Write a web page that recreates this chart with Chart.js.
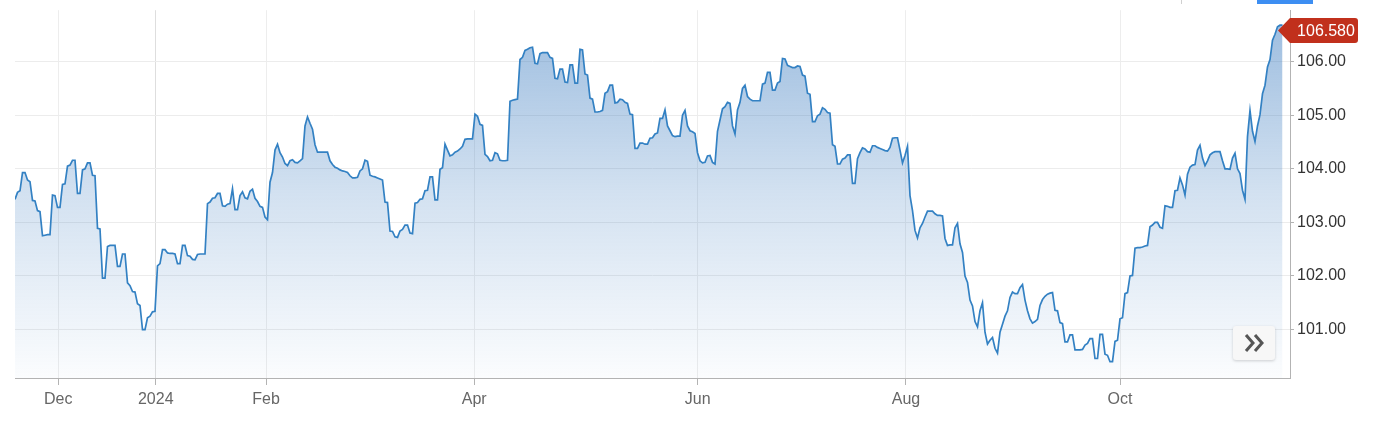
<!DOCTYPE html>
<html>
<head>
<meta charset="utf-8">
<script src="https://cdn.jsdelivr.net/npm/chart.js@4"></script>
<style>
  body { margin: 0; background: #fff; }
  #wrap { width: 1379px; height: 435px; }
</style>
</head>
<body>
<div id="wrap"><canvas id="dxyChart" width="1379" height="435"></canvas></div>
<script>
// Dollar index, one value per sample (about 2 per trading day), Nov 2023 -> Nov 2024
const dxyValues = [
    // late Nov 2023 - Dec
    103.43,103.56,103.59,103.93,103.93,103.79,103.76,103.41,103.40,103.22,
    103.20,102.75,102.76,102.77,102.77,103.51,103.50,103.28,103.28,103.71,
    103.72,104.05,104.07,104.16,104.16,103.54,103.54,103.98,104.00,104.11,
    104.11,103.88,103.87,102.89,102.88,101.96,101.96,102.55,102.57,102.57,
    102.57,102.18,102.18,102.41,102.41,101.87,101.82,101.71,101.70,101.48,
    101.45,101.00,101.00,101.22,101.25,101.33,101.34,102.19,102.23,102.49,
    // Jan 2024
    102.49,102.43,102.42,102.42,102.41,102.23,102.23,102.57,102.57,102.38,
    102.37,102.31,102.30,102.40,102.41,102.41,102.41,103.35,103.38,103.45,
    103.46,103.54,103.54,103.31,103.30,103.34,103.35,
    103.63,103.24,103.24,103.50,103.57,103.46,103.44,103.58,103.62,103.45,
    103.39,103.30,103.28,103.10,103.05,103.75,103.93,104.35,104.46,104.30,
    // Feb - Mar
    104.22,104.10,104.06,104.15,104.17,104.12,104.11,104.15,104.19,104.80,
    104.97,104.85,104.74,104.45,104.31,104.31,104.31,104.31,104.31,104.15,
    104.08,104.03,104.01,103.98,103.96,103.95,103.93,103.87,103.83,103.83,
    103.84,103.96,104.00,104.16,104.14,103.88,103.86,103.85,103.83,103.81,
    103.79,103.38,103.37,102.84,102.83,102.73,102.72,102.84,102.87,102.95,
    102.95,102.80,102.79,103.36,103.37,103.43,103.44,103.59,103.60,103.85,
    103.85,103.42,103.42,103.99,104.02,104.46,
    104.35,104.24,104.26,104.31,104.33,104.37,104.42,104.55,104.56,104.56,
    // Apr - May
    104.56,105.02,104.98,104.83,104.81,104.27,104.23,104.15,104.16,104.30,
    104.28,104.16,104.15,104.15,104.16,105.26,105.28,105.29,105.30,106.04,
    106.08,106.21,106.23,106.26,106.27,105.97,105.96,106.15,106.17,106.17,
    106.17,106.08,106.06,105.69,105.68,105.86,105.86,105.62,105.61,105.94,
    105.94,105.60,105.60,106.23,106.22,105.77,105.75,105.32,105.30,105.06,
    105.06,105.07,105.09,105.41,105.44,105.56,105.56,105.23,105.24,105.30,
    105.29,105.24,105.22,105.02,105.01,104.38,104.38,104.48,104.48,104.46,
    104.46,104.57,104.58,104.65,104.67,104.94,
    // Jun - Jul
    104.94,105.10,104.80,104.71,104.62,104.60,104.61,104.61,105.00,105.09,
    104.80,104.71,104.69,104.66,104.30,104.15,104.11,104.12,104.24,104.25,
    104.12,104.09,104.70,104.91,105.12,105.16,105.24,105.22,104.80,104.65,
    105.10,105.24,105.50,105.56,105.35,105.30,105.27,105.27,105.27,105.27,
    105.58,105.60,105.80,105.80,105.47,105.47,105.60,105.63,106.06,106.05,
    105.93,105.91,105.89,105.89,105.92,105.91,105.75,105.73,105.41,105.39,
    104.88,104.88,104.99,105.02,105.14,105.11,105.05,105.04,104.45,104.42,
    104.09,104.09,104.18,104.20,104.26,104.26,103.73,103.73,104.19,104.30,
    104.39,104.37,104.32,104.31,104.43,104.43,
    104.40,104.38,104.36,104.34,104.33,104.40,104.57,104.58,104.58,104.35,
    // Aug - Sep
    104.11,104.25,104.42,103.50,103.22,102.85,102.71,102.90,102.98,103.10,
    103.21,103.21,103.21,103.16,103.13,103.13,103.12,102.70,102.57,102.58,
    102.58,102.90,102.98,102.60,102.44,102.00,101.88,101.55,101.44,101.15,
    101.05,101.35,101.50,100.95,100.73,100.80,100.85,100.65,100.56,100.95,
    101.10,101.25,101.35,101.60,101.70,101.67,101.67,101.78,101.84,101.55,
    101.35,101.20,101.12,101.15,101.19,101.45,101.56,101.62,101.66,101.68,
    101.69,101.36,101.35,101.13,101.11,100.77,100.77,100.90,100.90,100.62,
    100.62,100.62,100.63,100.71,100.74,100.83,
    100.83,100.46,100.46,100.91,100.91,100.54,100.52,100.40,100.40,100.78,
    // Oct - Nov
    100.80,101.20,101.22,101.67,101.69,102.00,102.01,102.52,102.53,102.53,
    102.54,102.56,102.57,102.92,102.95,103.00,103.00,102.91,102.89,103.31,
    103.30,103.28,103.28,103.59,103.60,103.83,103.70,103.51,103.90,104.03,
    104.07,104.08,104.35,104.44,104.20,104.06,104.15,104.26,104.30,104.32,
    104.32,104.32,104.15,104.00,104.00,103.99,104.20,104.29,104.00,103.91,
    103.60,103.43,104.60,105.09,104.70,104.51,104.80,105.01,105.40,105.56,
    105.90,106.04,106.40,106.51,106.65,106.68,106.68
];

// x axis: sample index where each month label sits
const tickLabels = ['Dec', '2024', 'Feb', 'Apr', 'Jun', 'Aug', 'Oct'];
const tickIndex = [17.3, 56.3, 100.4, 183.7, 273.1, 356.4, 442];
const yTicks = [101, 102, 103, 104, 105, 106];
const lastPrice = 106.58;

const FONT = '"Liberation Sans", Arial, sans-serif';

const extras = {
    id: 'extras',
    afterDraw(chart) {
        const { ctx, chartArea: a, scales } = chart;
        ctx.save();

        // bits of the toolbar above the chart
        ctx.fillStyle = '#3d8ef2';
        ctx.fillRect(1257, 0, 56, 4);
        ctx.fillStyle = '#d0d0d0';
        ctx.fillRect(1181, 0, 1, 4);

        // last price tag
        const py = scales.y.getPixelForValue(lastPrice);
        const tip = a.right - 12, l = a.right, r = a.right + 68;
        const t = py - 12.5, b = py + 12.5, rad = 3;
        ctx.fillStyle = '#c1301c';
        ctx.beginPath();
        ctx.moveTo(tip, py);
        ctx.lineTo(l, t);
        ctx.lineTo(r - rad, t);
        ctx.quadraticCurveTo(r, t, r, t + rad);
        ctx.lineTo(r, b - rad);
        ctx.quadraticCurveTo(r, b, r - rad, b);
        ctx.lineTo(l, b);
        ctx.closePath();
        ctx.fill();
        ctx.fillStyle = '#ffffff';
        ctx.font = '16px ' + FONT;
        ctx.textAlign = 'center';
        ctx.textBaseline = 'middle';
        ctx.fillText(lastPrice.toFixed(3), (l + r) / 2 + 2, py + 1);

        // ">>" scroll button
        const bx = a.right - 57, by = a.bottom - 52, bw = 42, bh = 34;
        ctx.shadowColor = 'rgba(0,0,0,0.18)';
        ctx.shadowBlur = 3;
        ctx.shadowOffsetY = 1;
        ctx.fillStyle = '#f7f7f7';
        ctx.beginPath();
        ctx.roundRect(bx, by, bw, bh, 3);
        ctx.fill();
        ctx.shadowColor = 'transparent';
        ctx.strokeStyle = '#555';
        ctx.lineWidth = 3;
        ctx.lineJoin = 'miter';
        [0, 9].forEach(dx => {
            ctx.beginPath();
            ctx.moveTo(bx + 13 + dx, by + 9);
            ctx.lineTo(bx + 20 + dx, by + 17);
            ctx.lineTo(bx + 13 + dx, by + 25);
            ctx.stroke();
        });
        ctx.restore();
    }
};

const dxyCtx = document.getElementById('dxyChart').getContext('2d');
new Chart(dxyCtx, {
    type: 'line',
    data: {
        datasets: [{
            data: dxyValues.map((v, i) => ({ x: i, y: v })),
            borderColor: '#3381c3',
            borderWidth: 1.7,
            pointRadius: 0,
            tension: 0,
            fill: 'start',
            backgroundColor: function(context) {
                const area = context.chart.chartArea;
                if (!area) return 'rgba(54,120,190,0.3)';
                const g = context.chart.ctx.createLinearGradient(0, area.top, 0, area.bottom);
                g.addColorStop(0, 'rgba(54,120,190,0.50)');
                g.addColorStop(0.5, 'rgba(54,120,190,0.22)');
                g.addColorStop(1, 'rgba(54,120,190,0.02)');
                return g;
            }
        }]
    },
    options: {
        responsive: false,
        animation: false,
        devicePixelRatio: 1,
        layout: { padding: { left: 15, top: 8, right: 0, bottom: 0 } },
        plugins: { legend: { display: false }, tooltip: { enabled: false } },
        scales: {
            x: {
                type: 'linear',
                min: 0,
                max: 510,
                afterBuildTicks: scale => { scale.ticks = tickIndex.map(v => ({ value: v })); },
                afterFit: scale => { scale.height = 57; },
                grid: {
                    color: ctx => (ctx.tick && ctx.tick.value === tickIndex[1]) ? '#dedede' : '#ededed',
                    tickColor: '#b3b3b3',
                    tickLength: 7
                },
                border: { color: '#b3b3b3', width: 1 },
                ticks: {
                    autoSkip: false,
                    maxRotation: 0,
                    padding: 5,
                    color: '#666',
                    font: { family: FONT, size: 16 },
                    callback: (value, i) => tickLabels[i]
                }
            },
            y: {
                position: 'right',
                min: 100.096,
                max: 106.96,
                afterBuildTicks: scale => { scale.ticks = yTicks.map(v => ({ value: v })); },
                afterFit: scale => { scale.width = 89; },
                grid: {
                    color: '#ececec',
                    tickColor: '#b3b3b3',
                    tickLength: 4
                },
                border: { color: '#b3b3b3', width: 1 },
                ticks: {
                    padding: 3,
                    color: '#333',
                    font: { family: FONT, size: 16, lineHeight: 0.9 },
                    callback: value => value.toFixed(2)
                }
            }
        }
    },
    plugins: [extras]
});
</script>
</body>
</html>
